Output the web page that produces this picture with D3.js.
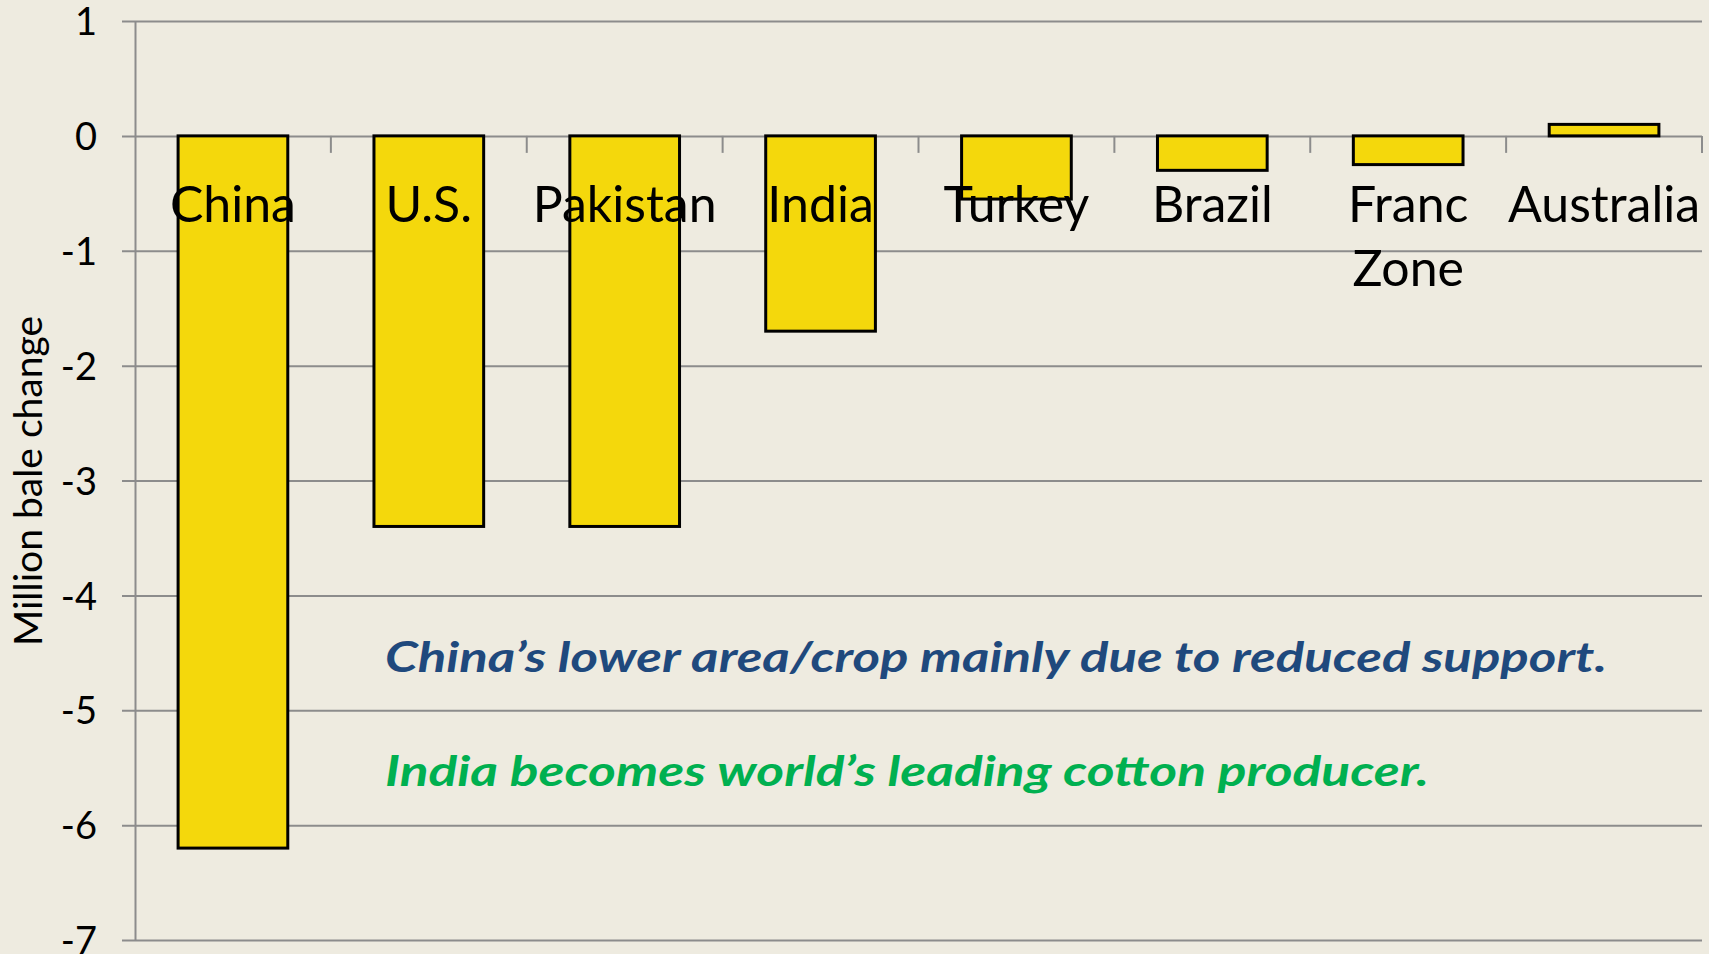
<!DOCTYPE html>
<html>
<head>
<meta charset="utf-8">
<script src="https://cdn.jsdelivr.net/npm/d3@7"></script>
<style>
    html, body { margin: 0; padding: 0; background: #eeebe0; }
    svg { display: block; }
    text { font-family: Lato, "Open Sans", sans-serif; fill: #000; }
</style>
</head>
<body>
<div id="chart"></div>
<script>
// Chart data
const categories = ["China", "U.S.", "Pakistan", "India", "Turkey", "Brazil", "Franc Zone", "Australia"];
const changes = [-6.2, -3.4, -3.4, -1.7, -0.55, -0.3, -0.25, 0.1];
const yTicks = [1, 0, -1, -2, -3, -4, -5, -6, -7];
const notes = [
    "China\u2019s lower area/crop mainly due to reduced support.",
    "India becomes world\u2019s leading cotton producer."
];

const width = 1709;
const height = 954;
const margin = { top: 21, right: 7, bottom: 14, left: 135 };

const svg = d3.select("#chart")
    .append("svg")
    .attr("width", width)
    .attr("height", height);

svg.append("rect")
    .attr("width", width)
    .attr("height", height)
    .attr("fill", "#eeebe0");

// Scales
const x = d3.scaleBand()
    .domain(categories)
    .range([margin.left, width - margin.right])
    .paddingInner(0.44)
    .paddingOuter(0.22);

const y = d3.scaleLinear()
    .domain([-7, 1])
    .range([height - margin.bottom, margin.top]);

const gridColor = "#8c8c8c";

// Horizontal gridlines + y axis ticks
const yAxis = d3.axisLeft(y)
    .tickValues(yTicks)
    .tickSize(-(width - margin.right - margin.left))
    .tickSizeOuter(0)
    .tickPadding(38)
    .tickFormat(d3.format("d"));

const gy = svg.append("g")
    .attr("transform", `translate(${margin.left},0)`)
    .call(yAxis);

gy.select(".domain").attr("stroke", gridColor).attr("stroke-width", 2);
gy.selectAll(".tick line")
    .attr("stroke", gridColor)
    .attr("stroke-width", 2)
    .attr("x1", -13);
gy.selectAll(".tick text")
    .attr("font-size", 38)
    .attr("dy", "0.36em")
    .style("font-family", "Lato, sans-serif")
    .attr("fill", "#000");
gy.selectAll(".tick text").text(d => d < 0 ? "-" + Math.abs(d) : d);

// Category tick marks on the zero line
const boundaries = categories.slice(1).map(c => x(c) - x.step() * x.paddingInner() / 2)
    .concat([width - margin.right]);
svg.append("g")
    .selectAll("line")
    .data(boundaries)
    .enter()
    .append("line")
    .attr("x1", d => d)
    .attr("x2", d => d)
    .attr("y1", y(0))
    .attr("y2", y(0) + 17)
    .attr("stroke", gridColor)
    .attr("stroke-width", 2);

// Bars
svg.append("g")
    .selectAll("rect")
    .data(categories)
    .enter()
    .append("rect")
    .attr("x", d => x(d))
    .attr("width", x.bandwidth())
    .attr("y", (d, i) => y(Math.max(0, changes[i])))
    .attr("height", (d, i) => Math.abs(y(changes[i]) - y(0)))
    .attr("fill", "#f4d80c")
    .attr("stroke", "#000")
    .attr("stroke-width", 3);

// Category labels
const labels = svg.append("g")
    .selectAll("text")
    .data(categories)
    .enter()
    .append("text")
    .attr("text-anchor", "middle")
    .attr("font-size", 50)
    .attr("y", y(0) + 86);

labels.each(function (d) {
    const words = d === "Franc Zone" ? ["Franc", "Zone"] : [d];
    const cx = x(d) + x.bandwidth() / 2;
    d3.select(this).selectAll("tspan")
        .data(words)
        .enter()
        .append("tspan")
        .attr("x", cx)
        .attr("dy", (w, i) => i === 0 ? 0 : 64)
        .text(w => w);
});

// Y axis title
svg.append("text")
    .attr("transform", "translate(42,481) rotate(-90)")
    .attr("text-anchor", "middle")
    .attr("font-size", 39)
    .text("Million bale change");

// Annotations
svg.append("text")
    .attr("x", 385)
    .attr("y", 672)
    .attr("font-size", 42)
    .attr("font-weight", "bold")
    .attr("font-style", "italic")
    .attr("textLength", 1222)
    .attr("lengthAdjust", "spacingAndGlyphs")
    .style("fill", "#1f497d")
    .text(notes[0]);

svg.append("text")
    .attr("x", 385)
    .attr("y", 786)
    .attr("font-size", 42)
    .attr("font-weight", "bold")
    .attr("font-style", "italic")
    .attr("textLength", 1044)
    .attr("lengthAdjust", "spacingAndGlyphs")
    .style("fill", "#00b050")
    .text(notes[1]);
</script>
</body>
</html>
